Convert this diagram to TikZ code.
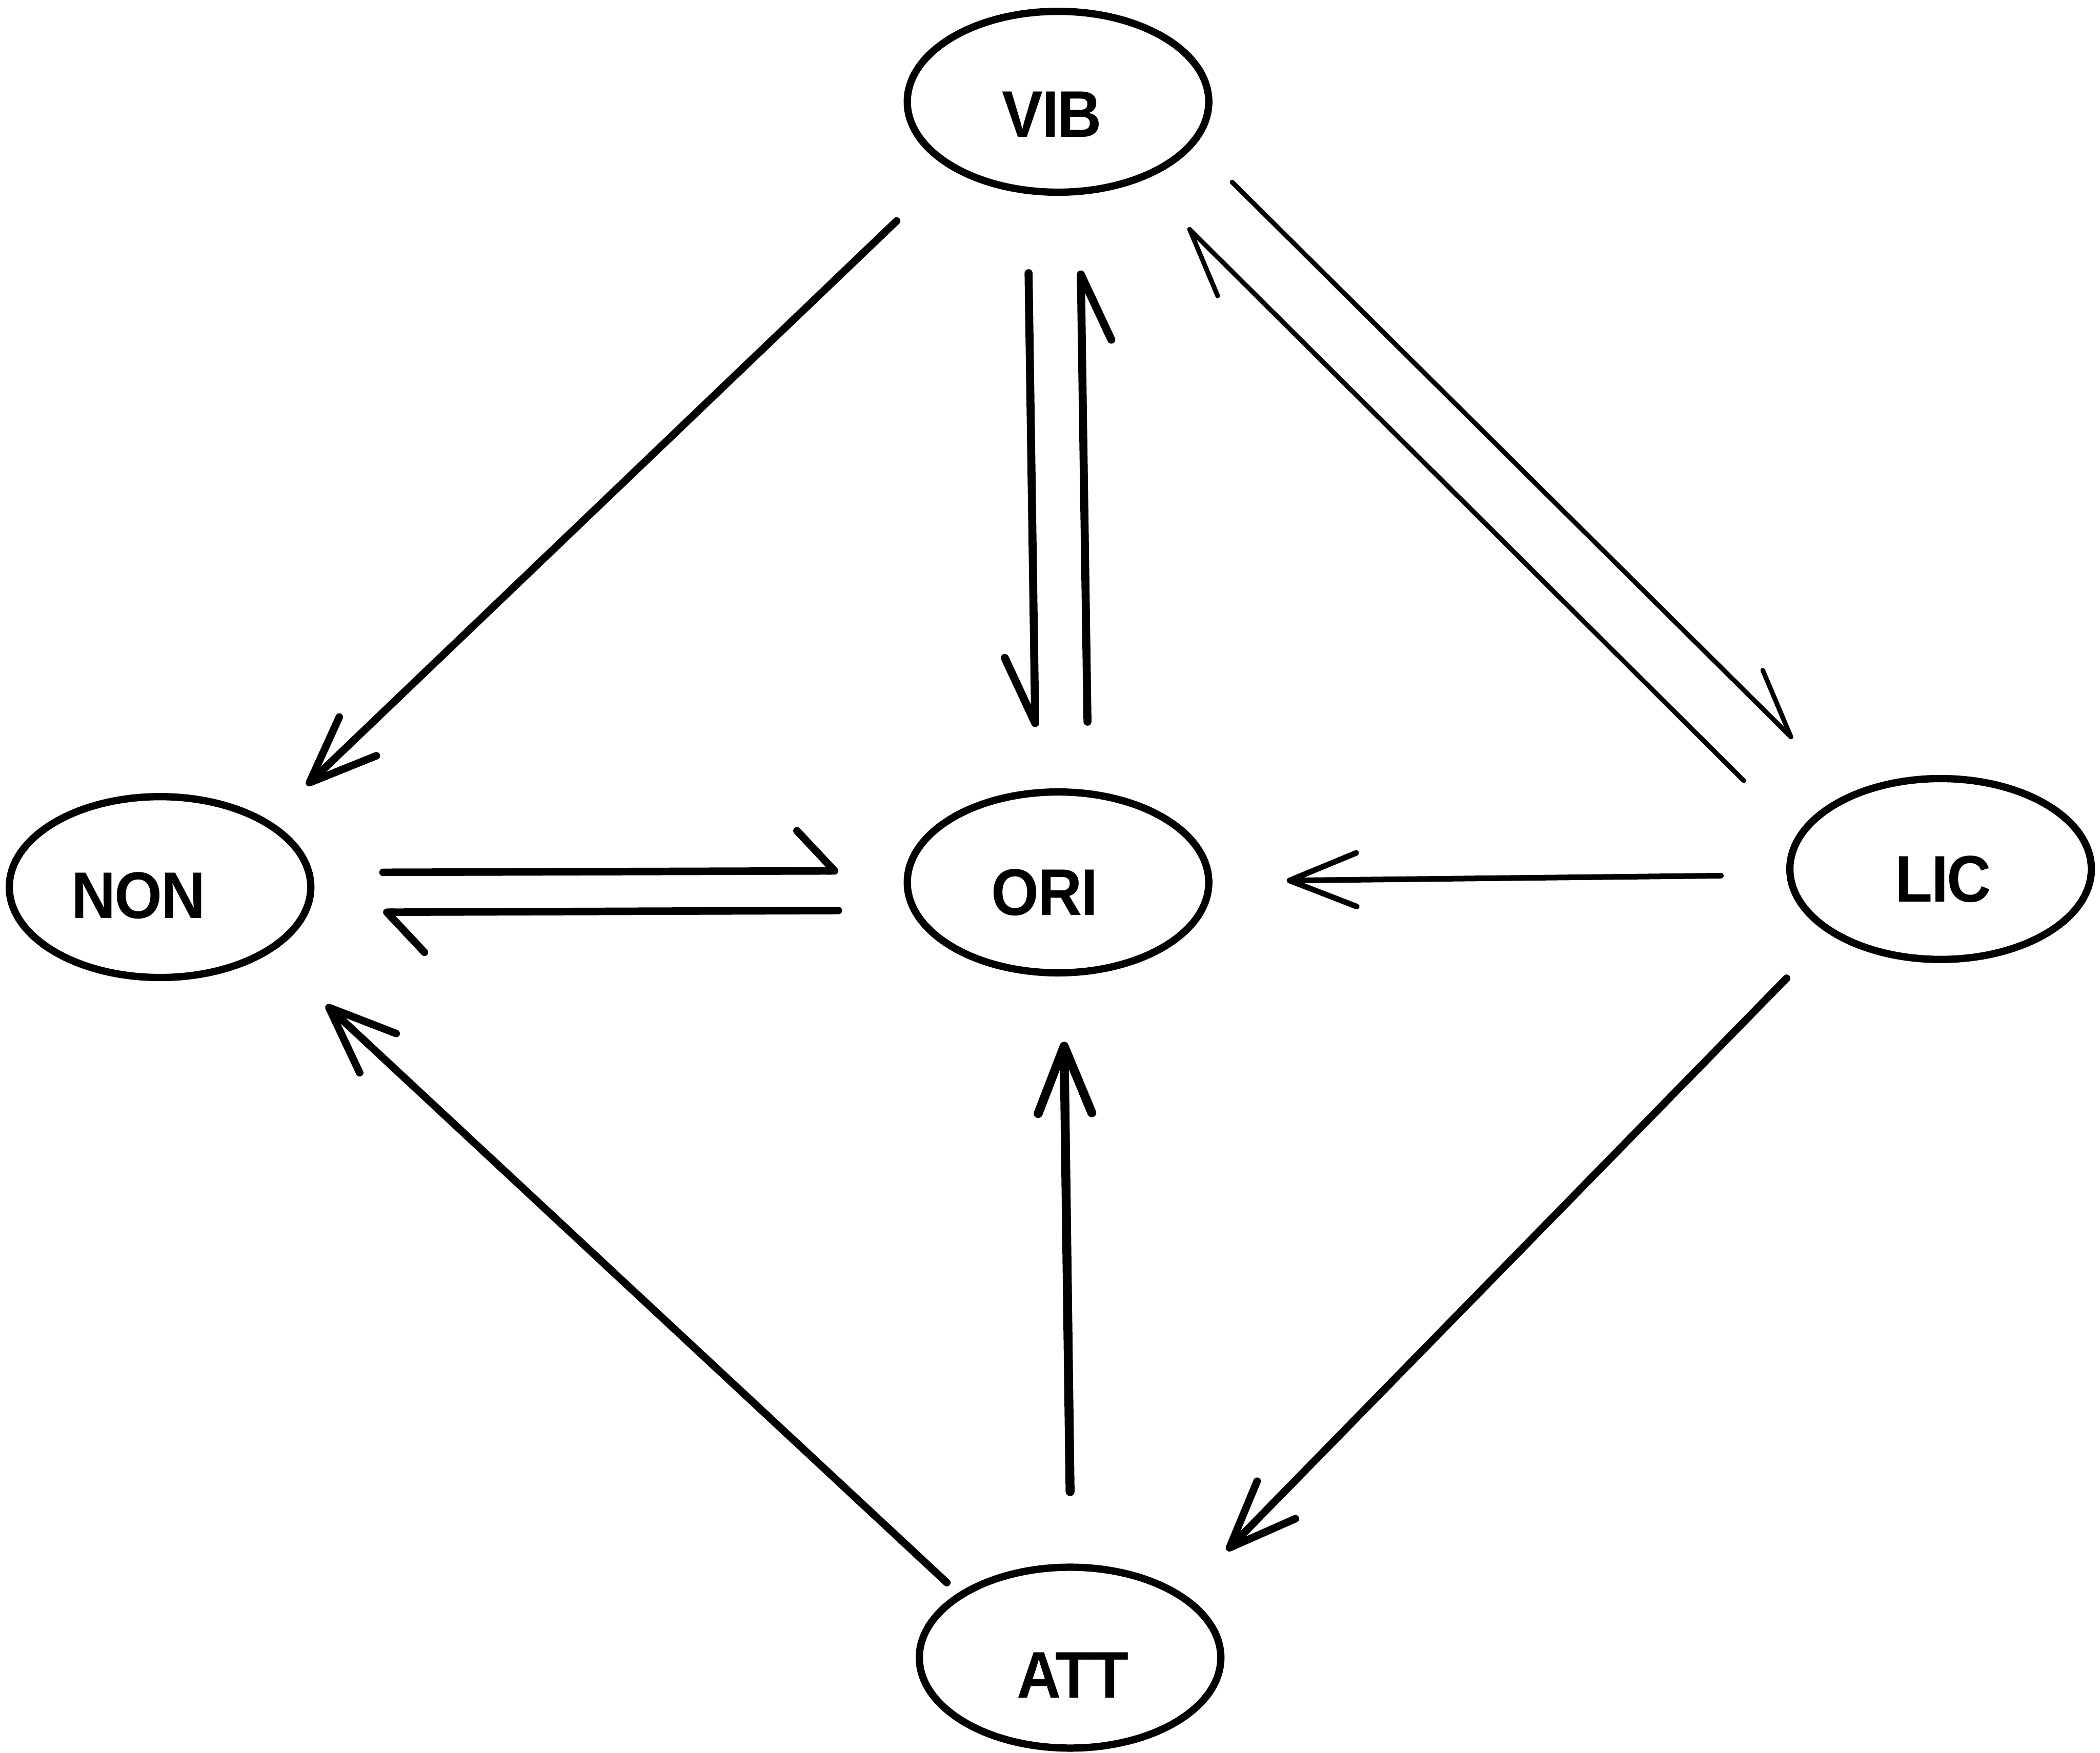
\documentclass[tikz,border=0pt]{standalone}
\usepackage{fontspec}
\setmainfont{Liberation Sans}
\newfontfamily\lblfont{Liberation Sans}[LetterSpace=-2]
\usetikzlibrary{shapes.geometric,arrows.meta,calc}
\newcommand\lblx[1]{\scalebox{0.93}[1]{#1}}
\begin{document}
\begin{tikzpicture}[x=0.01cm,y=-0.01cm,
  ell/.style={draw,ellipse,line width=1.55pt,minimum width=2.25cm,minimum height=1.35cm,inner sep=0pt,outer sep=0pt},
  lbl/.style={font=\lblfont\fontsize{14}{14}\selectfont\bfseries,inner sep=0pt},
  conn/.style={line width=1.6pt,line cap=round,line join=round},
  vtip/.style={conn,-{Straight Barb[length=0.50cm,width=0.40cm,round]}},
  hv/.style={conn,line width=1.7pt,-{Straight Barb[harpoon,swap,length=0.49cm,width=0.44cm,round]}},
  hd/.style={conn,line width=1.0pt,-{Straight Barb[harpoon,length=0.50cm,width=0.41cm,round]}},
  hh/.style={conn,-{Straight Barb[harpoon,length=0.28cm,width=0.60cm,round]}}
]
\useasboundingbox (0,0) rectangle (1568,1309.2);

\node[ell,label={[lbl,xshift=-0.045cm,yshift=-0.095cm]center:\lblx{VIB}}] (VIB) at (790,76) {};
\node[ell,label={[lbl,xshift=-0.16cm,yshift=-0.065cm]center:\lblx{NON}}] (NON) at (119.5,662.5) {};
\node[ell,label={[lbl,xshift=-0.10cm,yshift=-0.075cm]center:\lblx{ORI}}] (ORI) at (790,659) {};
\node[ell,label={[lbl,xshift=0.02cm,yshift=-0.075cm]center:\lblx{LIC}}] (LIC) at (1449,649) {};
\node[ell,label={[lbl,xshift=0.02cm,yshift=-0.13cm]center:\lblx{ATT}}] (ATT) at (799,1238) {};

% VIB -> NON
\draw[vtip] ($(VIB.center)+(-120.5,89)$) -- ($(NON.center)+(109.5,-76)$);
% VIB <-> ORI
\draw[hv] ($(VIB.center)+(-22,128)$) -- ($(ORI.center)+(-17,-116)$);
\draw[hv] ($(ORI.center)+(22,-120)$) -- ($(VIB.center)+(17,126)$);
% VIB <-> LIC
\draw[hd] ($(VIB.center)+(130,60)$) -- ($(LIC.center)+(-110.5,-97.4)$);
\draw[hd] ($(LIC.center)+(-147,-66)$) -- ($(VIB.center)+(97,94)$);
% NON <-> ORI
\draw[hh] ($(NON.center)+(166.5,-11)$) -- ($(ORI.center)+(-164,-8.6)$);
\draw[hh] ($(ORI.center)+(-164,21)$) -- ($(NON.center)+(166.5,18.8)$);
% LIC -> ORI
\draw[vtip,line width=1.2pt] ($(LIC.center)+(-164,5)$) -- ($(ORI.center)+(170.7,-1.4)$);
% LIC -> ATT
\draw[vtip] ($(LIC.center)+(-115,81.6)$) -- ($(ATT.center)+(117,-80)$);
% ATT -> ORI
\draw[vtip,line width=1.9pt] ($(ATT.center)+(0,-124)$) -- ($(ORI.center)+(4.5,119)$);
% ATT -> NON
\draw[vtip] ($(ATT.center)+(-92,-56)$) -- ($(NON.center)+(124,88)$);
\end{tikzpicture}
\end{document}
